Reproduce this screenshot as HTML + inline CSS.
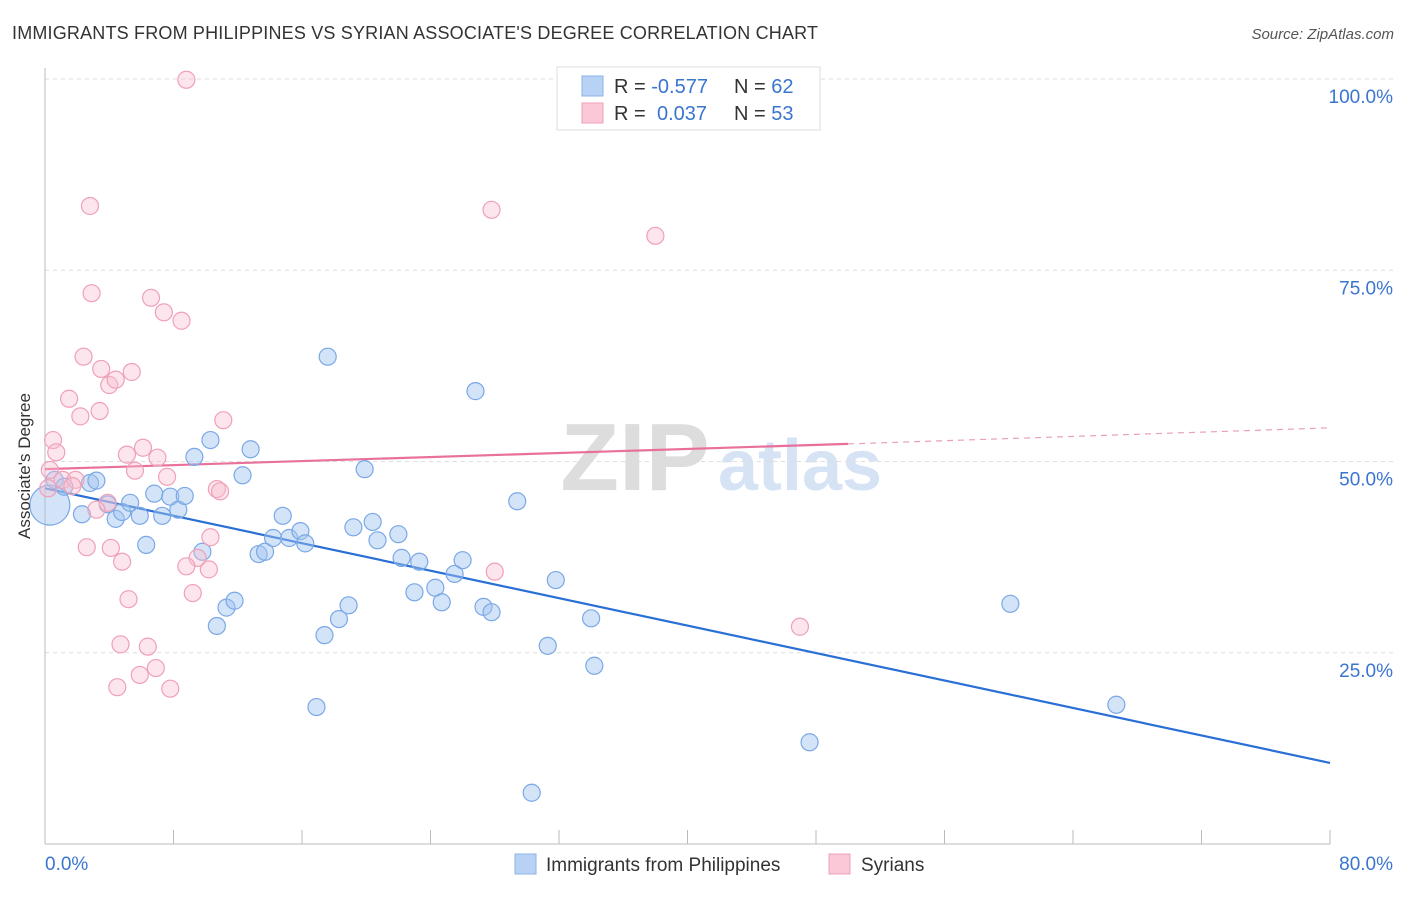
<!DOCTYPE html>
<html><head><meta charset="utf-8"><style>
body{margin:0;background:#fff;font-family:"Liberation Sans",sans-serif;}
svg text{font-family:"Liberation Sans",sans-serif;}
</style></head><body>
<svg id="chart" width="1406" height="892" viewBox="0 0 1406 892" xmlns="http://www.w3.org/2000/svg">
<text x="12" y="39" font-size="18" fill="#333" textLength="806">IMMIGRANTS FROM PHILIPPINES VS SYRIAN ASSOCIATE'S DEGREE CORRELATION CHART</text>
<text x="1394" y="39" font-size="15" fill="#555" font-style="italic" text-anchor="end">Source: ZipAtlas.com</text>
<g>
<text x="635" y="490" font-size="96" fill="#ddd" font-family="Liberation Serif" text-anchor="middle" font-weight="bold">ZIP</text>
<text x="800" y="490" font-size="72" fill="#d5e3f5" text-anchor="middle" font-weight="bold">atlas</text>
</g>
<g id="grid"></g>
<g id="axes"></g>
<g id="trends"></g>
<g id="points"></g>
<g>
<rect x="557" y="67" width="263" height="63" fill="#fff" stroke="#ddd"/>
<rect x="582" y="76" width="21" height="20" fill="#b8d2f5" stroke="#8ab4e8"/>
<rect x="582" y="103" width="21" height="20" fill="#fac8d6" stroke="#f0a0b8"/>
<text x="614" y="93" font-size="20" fill="#333">R = <tspan fill="#3a75d0">-0.577</tspan><tspan x="734">N = </tspan><tspan fill="#3a75d0">62</tspan></text>
<text x="614" y="120" font-size="20" fill="#333">R = <tspan fill="#3a75d0" x="657">0.037</tspan><tspan x="734">N = </tspan><tspan fill="#3a75d0">53</tspan></text>
</g>
<g>
<rect x="515" y="854" width="21" height="20" fill="#b8d2f5" stroke="#8ab4e8"/>
<text x="546" y="871" font-size="19" fill="#333">Immigrants from Philippines</text>
<rect x="829" y="854" width="21" height="20" fill="#fac8d6" stroke="#f0a0b8"/>
<text x="861" y="871" font-size="19" fill="#333">Syrians</text>
</g>
<text x="20" y="456" font-size="17" fill="#333" transform="rotate(-90 30 456)" text-anchor="middle">Associate's Degree</text>
</svg>
<script>
const yTicks=[25,50,75,100];
const yTickLabels=["25.0%","50.0%","75.0%","100.0%"];
const xTickCount=10;
const blueX=[0.3,0.6,1.2,2.3,2.8,3.2,3.9,4.4,4.8,5.3,5.9,6.3,6.8,7.3,7.8,8.3,8.7,9.3,9.8,10.3,10.7,11.3,11.8,12.3,12.8,13.3,13.7,14.2,14.8,15.2,15.9,16.2,16.9,17.4,17.6,18.3,18.9,19.2,19.9,20.4,20.7,22.0,22.2,23.0,23.3,24.3,24.7,25.5,26.0,26.8,27.3,27.8,29.4,30.3,31.3,31.8,34.0,34.2,47.6,60.1,66.7];
const blueY=[44.3,47.6,46.7,43.1,47.2,47.5,44.4,42.5,43.4,44.6,42.9,39.1,45.8,42.9,45.4,43.7,45.5,50.6,38.2,52.8,28.5,30.9,31.8,48.2,51.6,37.9,38.2,40.0,42.9,40.0,40.9,39.3,17.9,27.3,63.7,29.4,31.2,41.4,49.0,42.1,39.7,40.5,37.4,32.9,36.9,33.5,31.6,35.3,37.1,59.2,31.0,30.3,44.8,6.7,25.9,34.5,29.5,23.3,13.3,31.4,18.2];
const pinkX=[8.8,2.8,27.8,38.0,2.9,6.6,7.4,8.5,2.4,3.5,5.4,4.0,4.4,1.5,3.4,2.2,11.1,0.5,0.7,6.1,5.1,7.0,5.6,7.6,0.3,1.1,1.9,1.7,10.7,10.9,3.9,3.2,10.3,2.6,4.1,9.5,4.8,8.8,10.2,28.0,9.2,5.2,47.0,4.7,6.4,6.9,5.9,4.5,7.8,0.2];
const pinkY=[99.9,83.4,82.9,79.5,72.0,71.4,69.5,68.4,63.7,62.1,61.7,60.0,60.7,58.2,56.6,55.9,55.4,52.8,51.2,51.8,50.9,50.5,48.8,48.0,48.9,47.6,47.6,46.8,46.4,46.1,44.6,43.7,40.1,38.8,38.7,37.4,36.9,36.3,35.9,35.6,32.8,32.0,28.4,26.1,25.8,23.0,22.1,20.5,20.3,46.5];
const blueTrend=[[0,46.5],[80,10.6]];
const pinkTrend=[[0,49.0],[50,52.3]];
const pinkTrendExt=[[50,52.3],[80,54.4]];
const NS="http://www.w3.org/2000/svg";
const X=v=>45+v/80*1285, Y=v=>844-v/100*765;
function mk(tag,attrs,parent){const e=document.createElementNS(NS,tag);for(const k in attrs)e.setAttribute(k,attrs[k]);document.getElementById(parent).appendChild(e);return e;}
yTicks.forEach((t,i)=>{
 const g=mk('line',{x1:45,x2:1393,y1:Y(t),y2:Y(t),stroke:'#ddd','stroke-dasharray':'4,4'},'grid');
 
 
 const l=mk('text',{x:1393,y:Y(t)+24,'font-size':19,fill:'#3a75d0','text-anchor':'end'},'grid');
 l.textContent=yTickLabels[i];
 
 
});
const ya=mk('line',{x1:45,x2:45,y1:68,y2:844,stroke:'#bbb'},'axes');


const xa=mk('line',{x1:45,x2:1330,y1:844,y2:844,stroke:'#bbb'},'axes');


for(let i=1;i<=xTickCount;i++){const t=mk('line',{x1:X(i*8),x2:X(i*8),y1:830,y2:844,stroke:'#bbb'},'axes');
 
 }
const xl0=mk('text',{x:45,y:870,'font-size':19,fill:'#3a75d0'},'axes');xl0.textContent='0.0%';


const xl1=mk('text',{x:1393,y:870,'font-size':19,fill:'#3a75d0','text-anchor':'end'},'axes');xl1.textContent='80.0%';


const bt=mk('line',{x1:X(blueTrend[0][0]),y1:Y(blueTrend[0][1]),x2:X(blueTrend[1][0]),y2:Y(blueTrend[1][1]),stroke:'#2a6fd6','stroke-width':2.2},'trends');


const pt=mk('line',{x1:X(pinkTrend[0][0]),y1:Y(pinkTrend[0][1]),x2:X(pinkTrend[1][0]),y2:Y(pinkTrend[1][1]),stroke:'#e8709a','stroke-width':2.2},'trends');


const pe=mk('line',{x1:X(pinkTrendExt[0][0]),y1:Y(pinkTrendExt[0][1]),x2:X(pinkTrendExt[1][0]),y2:Y(pinkTrendExt[1][1]),stroke:'#e8a0b8','stroke-width':1.2,'stroke-dasharray':'6,5'},'trends');


blueX.forEach((v,i)=>{const c=mk('circle',{cx:X(v),cy:Y(blueY[i]),r:i===0?20:8.5,fill:'rgba(160,196,240,0.45)',stroke:'#7aa8e6','stroke-width':1.2},'points');
 
 });
pinkX.forEach((v,i)=>{const c=mk('circle',{cx:X(v),cy:Y(pinkY[i]),r:8.5,fill:'rgba(248,190,208,0.4)',stroke:'#f0a0b8','stroke-width':1.2},'points');
 
 });
</script>
</body></html>
